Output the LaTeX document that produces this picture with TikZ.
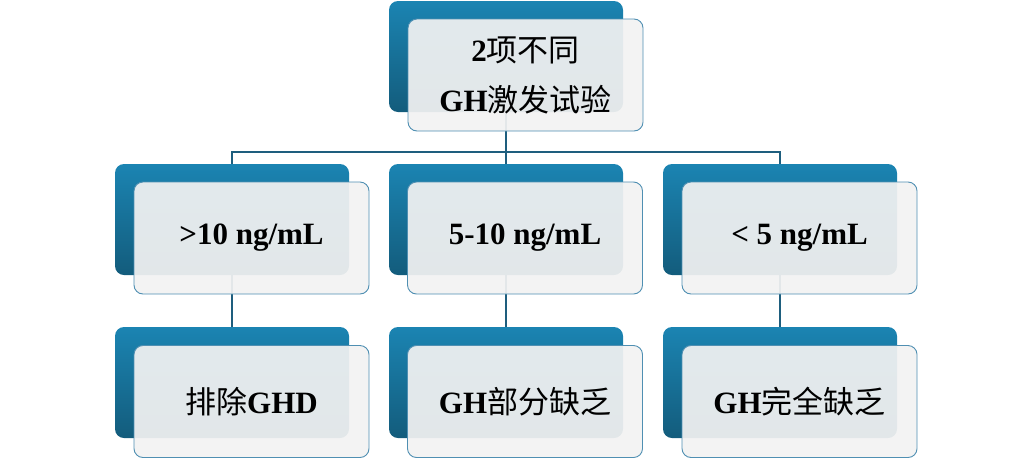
\documentclass[tikz,border=0pt]{standalone}
\usepackage{xcolor}
\usepackage{fontspec}
\setmainfont{Liberation Serif}
\newfontfamily\cjk{Noto Sans CJK SC}
\usepackage{tikz}
\usetikzlibrary{shapes,arrows,positioning,backgrounds}

\definecolor{backtop}{HTML}{1B84B2}
\definecolor{backbot}{HTML}{135C7C}
\definecolor{frontfill}{HTML}{F2F2F2}
\definecolor{frontline}{HTML}{4F8FB2}
\definecolor{linkcol}{HTML}{1E5E7E}

\newcommand{\zh}[1]{{\cjk\mdseries #1}}

\tikzset{
  backbox/.style={rounded corners=9pt,minimum width=234pt,minimum height=111pt,
    top color=backtop,bottom color=backbot,draw=none},
  frontbox/.style={draw=frontline,line width=0.9pt,fill=frontfill,fill opacity=0.93,
    text opacity=1,rounded corners=9pt,minimum width=235pt,minimum height=112pt,
    align=center,font=\fontsize{31}{50}\selectfont\bfseries},
  link/.style={draw=linkcol,line width=2.2pt}
}

\begin{document}
\begin{tikzpicture}[x=1pt,y=-1pt]
\useasboundingbox (0,0) rectangle (1032,464);

% top level
\node[backbox] (topback) at (506,56.5) {};
\node[frontbox] (topfront) at (525.5,75) {2\zh{项不同}\\GH\zh{激发试验}};

% second level
\node[backbox] (leftback) at (232,219.5) {};
\node[frontbox] (leftfront) at (251.5,238) {>10 ng/mL};
\node[backbox] (midback) at (506,219.5) {};
\node[frontbox] (midfront) at (525,238) {5-10 ng/mL};
\node[backbox] (rightback) at (780,219.5) {};
\node[frontbox] (rightfront) at (799.5,238) {< 5 ng/mL};

% third level
\node[backbox] (noback) at (232,382.5) {};
\node[frontbox] (nofront) at (251.5,401.5) {\zh{排除}GHD};
\node[backbox] (partback) at (506,382.5) {};
\node[frontbox] (partfront) at (525,401.5) {GH\zh{部分缺乏}};
\node[backbox] (fullback) at (780,382.5) {};
\node[frontbox] (fullfront) at (799.5,401.5) {GH\zh{完全缺乏}};

\coordinate (bar) at (506,152);

% connectors behind the boxes
\begin{scope}[on background layer]
\draw[link] (topback.center) -- (bar);
\draw[link] (bar) -| (leftback.center);
\draw[link] (bar) -- (midback.center);
\draw[link] (bar) -| (rightback.center);
\draw[link] (leftback.center) -- (noback.center);
\draw[link] (midback.center) -- (partback.center);
\draw[link] (rightback.center) -- (fullback.center);
\end{scope}
\end{tikzpicture}
\end{document}
